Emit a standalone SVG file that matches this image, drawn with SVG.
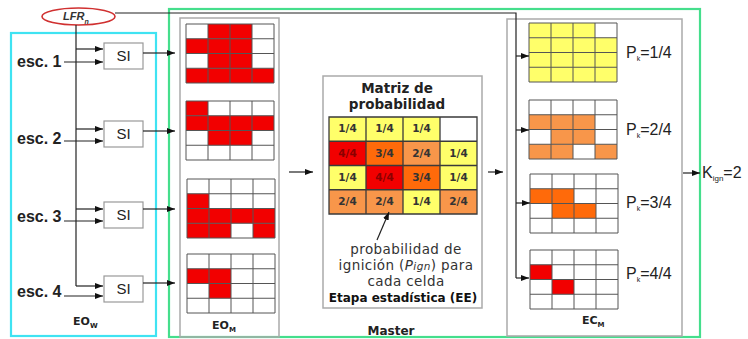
<svg xmlns="http://www.w3.org/2000/svg" width="748" height="339" viewBox="0 0 748 339">
<style>
.bg{fill:#ffffff}
.panel{fill:none;stroke:#aaaaaa;stroke-width:1.5}
.box{fill:#ffffff;stroke:#999999;stroke-width:1.2}
.ln{fill:none;stroke:#222222;stroke-width:1.2}
.arr{fill:none;stroke:#222222;stroke-width:1.2;marker-end:url(#ah)}
.gl{fill:none;stroke:#555555;stroke-width:1}
.R{fill:#f20000}
.Y{fill:#ffff6a}
.O{fill:#ff6a0a}
.L{fill:#f8964a}
.W{fill:#ffffff}
.esc{font-family:"Liberation Sans",Arial,sans-serif;font-weight:bold;font-size:16px;fill:#222}
.si{font-family:"Liberation Sans",Arial,sans-serif;font-size:15px;fill:#222;text-anchor:middle}
.lab{font-family:"DejaVu Sans",sans-serif;font-weight:bold;font-size:11px;fill:#222}
.sub{font-size:7px}
.ct{font-family:"DejaVu Sans",sans-serif;font-weight:bold;font-size:10.5px;fill:#333;text-anchor:middle}
.ctr{font-family:"DejaVu Sans",sans-serif;font-weight:bold;font-size:10.5px;fill:#8a0000;text-anchor:middle}
.ttl{font-family:"DejaVu Sans",sans-serif;font-weight:bold;font-size:13.5px;fill:#222;text-anchor:middle}
.desc{font-family:"DejaVu Sans",sans-serif;font-size:13.5px;letter-spacing:0.4px;fill:#333;text-anchor:middle}
.pk{font-family:"Liberation Sans",Arial,sans-serif;font-size:16px;fill:#222}
</style>
<defs>
<marker id="ah" markerWidth="8" markerHeight="6" refX="8" refY="3" orient="auto" markerUnits="userSpaceOnUse">
<path d="M0,0 L8,3 L0,6 z" fill="#111"/>
</marker>
<path id="grid" d="M0,0 H88 V59 H0 Z M22,0 V59 M44,0 V59 M66,0 V59 M0,14.75 H88 M0,29.5 H88 M0,44.25 H88" class="gl"/>
</defs>
<rect class="bg" x="0" y="0" width="748" height="339"/>

<g id="EOw">
<rect x="11" y="33" width="145" height="303" fill="none" stroke="#3fe3f2" stroke-width="2.2"/>
<text class="lab" x="73" y="325">EO<tspan class="sub" dy="3">W</tspan></text>
</g>
<g id="master">
<rect x="169" y="9" width="531" height="328" fill="none" stroke="#45de8c" stroke-width="2.2"/>
<text x="391" y="335" font-family="DejaVu Sans, sans-serif" font-weight="bold" font-size="12" fill="#222" text-anchor="middle">Master</text>
</g>

<g id="LFRn">
<ellipse cx="78.5" cy="16.5" rx="36.5" ry="8.5" fill="#fff" stroke="#d03030" stroke-width="1.6"/>
<text x="63" y="20" font-family="Liberation Sans, Arial, sans-serif" font-style="italic" font-weight="bold" font-size="11" fill="#333">LFR<tspan font-size="7" dy="4">n</tspan></text>
</g>

<g id="esc1"><text class="esc" x="17" y="67">esc. 1</text></g>
<g id="esc2"><text class="esc" x="17" y="144">esc. 2</text></g>
<g id="esc3"><text class="esc" x="17" y="222">esc. 3</text></g>
<g id="esc4"><text class="esc" x="17" y="297">esc. 4</text></g>

<g id="SI1"><rect class="box" x="104" y="43" width="39" height="26"/><text class="si" x="123.5" y="61">SI</text></g>
<g id="SI2"><rect class="box" x="104" y="121" width="39" height="26"/><text class="si" x="123.5" y="139">SI</text></g>
<g id="SI3"><rect class="box" x="104" y="202" width="39" height="26"/><text class="si" x="123.5" y="220">SI</text></g>
<g id="SI4"><rect class="box" x="104" y="276" width="39" height="26"/><text class="si" x="123.5" y="294">SI</text></g>

<g id="EOM">
<rect class="panel" x="180" y="18" width="99" height="319"/>
<g id="EOM1">
<rect class="W" x="186" y="24" width="88" height="59"/>
<rect class="R" x="208" y="24" width="44" height="14.75"/>
<rect class="R" x="186" y="38.75" width="66" height="14.75"/>
<rect class="R" x="208" y="53.5" width="44" height="14.75"/>
<rect class="R" x="186" y="68.25" width="88" height="14.75"/>
<use href="#grid" x="186" y="24"/>
</g>
<g id="EOM2">
<rect class="W" x="186" y="101" width="88" height="59"/>
<rect class="R" x="186" y="101" width="22" height="14.75"/>
<rect class="R" x="186" y="115.75" width="88" height="14.75"/>
<rect class="R" x="208" y="130.5" width="44" height="14.75"/>
<use href="#grid" x="186" y="101"/>
</g>
<g id="EOM3">
<rect class="W" x="187" y="179" width="88" height="59"/>
<rect class="R" x="187" y="193.75" width="22" height="14.75"/>
<rect class="R" x="187" y="208.5" width="88" height="14.75"/>
<rect class="R" x="187" y="223.25" width="44" height="14.75"/>
<rect class="R" x="253" y="223.25" width="22" height="14.75"/>
<use href="#grid" x="187" y="179"/>
</g>
<g id="EOM4">
<rect class="W" x="187" y="254" width="88" height="59"/>
<rect class="R" x="187" y="268.75" width="44" height="14.75"/>
<rect class="R" x="209" y="283.5" width="22" height="14.75"/>
<use href="#grid" x="187" y="254"/>
</g>
<text class="lab" x="212" y="329">EO<tspan class="sub" dy="3">M</tspan></text>
</g>

<g id="EE">
<rect class="panel" x="323" y="76" width="159" height="232"/>
<text class="ttl" x="397" y="93">Matriz de</text>
<text class="ttl" x="397" y="109">probabilidad</text>
<g id="matriz">
<rect class="Y" x="329" y="117" width="37" height="24.25"/>
<rect class="Y" x="366" y="117" width="37" height="24.25"/>
<rect class="Y" x="403" y="117" width="37" height="24.25"/>
<rect class="W" x="440" y="117" width="37" height="24.25"/>
<rect class="R" x="329" y="141.25" width="37" height="24.25"/>
<rect class="O" x="366" y="141.25" width="37" height="24.25"/>
<rect class="L" x="403" y="141.25" width="37" height="24.25"/>
<rect class="Y" x="440" y="141.25" width="37" height="24.25"/>
<rect class="Y" x="329" y="165.5" width="37" height="24.25"/>
<rect class="R" x="366" y="165.5" width="37" height="24.25"/>
<rect class="O" x="403" y="165.5" width="37" height="24.25"/>
<rect class="Y" x="440" y="165.5" width="37" height="24.25"/>
<rect class="L" x="329" y="189.75" width="37" height="24.25"/>
<rect class="L" x="366" y="189.75" width="37" height="24.25"/>
<rect class="Y" x="403" y="189.75" width="37" height="24.25"/>
<rect class="L" x="440" y="189.75" width="37" height="24.25"/>
<path d="M329,117 H477 V214 H329 Z M366,117 V214 M403,117 V214 M440,117 V214 M329,141.25 H477 M329,165.5 H477 M329,189.75 H477" fill="none" stroke="#3a3a3a" stroke-width="1.3"/>
<text class="ct" x="347.5" y="132">1/4</text>
<text class="ct" x="384.5" y="132">1/4</text>
<text class="ct" x="421.5" y="132">1/4</text>
<text class="ctr" x="347.5" y="156.5">4/4</text>
<text class="ct" x="384.5" y="156.5">3/4</text>
<text class="ct" x="421.5" y="156.5">2/4</text>
<text class="ct" x="458.5" y="156.5">1/4</text>
<text class="ct" x="347.5" y="180.5">1/4</text>
<text class="ctr" x="384.5" y="180.5">4/4</text>
<text class="ct" x="421.5" y="180.5">3/4</text>
<text class="ct" x="458.5" y="180.5">1/4</text>
<text class="ct" x="347.5" y="205">2/4</text>
<text class="ct" x="384.5" y="205">2/4</text>
<text class="ct" x="421.5" y="205">1/4</text>
<text class="ct" x="458.5" y="205">2/4</text>
</g>
<text class="desc" x="406" y="254">probabilidad de</text>
<text class="desc" x="406" y="270">ignición (<tspan font-style="italic">P</tspan><tspan font-style="italic" font-size="10.5">ign</tspan>) para</text>
<text class="desc" x="406" y="286">cada celda</text>
<text x="403" y="302" font-family="DejaVu Sans, sans-serif" font-weight="bold" font-size="12" fill="#111" text-anchor="middle">Etapa estadística (EE)</text>
</g>

<g id="ECM">
<rect class="panel" x="507" y="19" width="175" height="317"/>
<g id="EC1">
<rect class="W" x="529" y="23" width="88" height="59"/>
<rect class="Y" x="529" y="23" width="66" height="14.75"/>
<rect class="Y" x="529" y="37.75" width="88" height="44.25"/>
<use href="#grid" x="529" y="23"/>
<text class="pk" x="626" y="58">P<tspan font-size="7" dy="3">k</tspan><tspan dy="-3">=1/4</tspan></text>
</g>
<g id="EC2">
<rect class="W" x="529" y="100" width="88" height="59"/>
<rect class="L" x="529" y="114.75" width="66" height="14.75"/>
<rect class="L" x="551" y="129.5" width="44" height="14.75"/>
<rect class="L" x="529" y="144.25" width="44" height="14.75"/>
<rect class="L" x="595" y="144.25" width="22" height="14.75"/>
<use href="#grid" x="529" y="100"/>
<text class="pk" x="626" y="135">P<tspan font-size="7" dy="3">k</tspan><tspan dy="-3">=2/4</tspan></text>
</g>
<g id="EC3">
<rect class="W" x="530" y="174" width="88" height="59"/>
<rect class="O" x="530" y="188.75" width="44" height="14.75"/>
<rect class="O" x="552" y="203.5" width="44" height="14.75"/>
<use href="#grid" x="530" y="174"/>
<text class="pk" x="626" y="208">P<tspan font-size="7" dy="3">k</tspan><tspan dy="-3">=3/4</tspan></text>
</g>
<g id="EC4">
<rect class="W" x="530" y="250" width="88" height="59"/>
<rect class="R" x="530" y="264.75" width="22" height="14.75"/>
<rect class="R" x="552" y="279.5" width="22" height="14.75"/>
<use href="#grid" x="530" y="250"/>
<text class="pk" x="626" y="279">P<tspan font-size="7" dy="3">k</tspan><tspan dy="-3">=4/4</tspan></text>
</g>
<text class="lab" x="582" y="324">EC<tspan class="sub" dy="3">M</tspan></text>
</g>

<g id="Kign">
<text class="pk" x="702" y="178">K<tspan font-size="8" dy="3">ign</tspan><tspan dy="-3">=2</tspan></text>
</g>

<g id="connectors">
<path class="ln" d="M115,13 H516 V278"/>
<path class="arr" d="M516,278 H529"/>
<path class="arr" d="M516,56 H529"/>
<path class="arr" d="M516,130 H529"/>
<path class="arr" d="M516,203 H530"/>
<path class="ln" d="M76,25 V286"/>
<path class="arr" d="M76,286 H103"/>
<path class="arr" d="M76,49 H103"/>
<path class="arr" d="M76,129 H103"/>
<path class="arr" d="M76,209 H103"/>
<path class="arr" d="M64,62 H103"/>
<path class="arr" d="M64,141 H103"/>
<path class="arr" d="M64,221 H103"/>
<path class="arr" d="M64,296 H103"/>
<path class="arr" d="M143,53 H175"/>
<path class="arr" d="M143,131 H175"/>
<path class="arr" d="M143,209 H175"/>
<path class="arr" d="M143,283 H175"/>
<path class="arr" d="M289,172 H313"/>
<path class="arr" d="M488,172 H503"/>
<path class="arr" d="M683,173 H700"/>
<path class="arr" d="M377,240 L389,212"/>
</g>
</svg>
